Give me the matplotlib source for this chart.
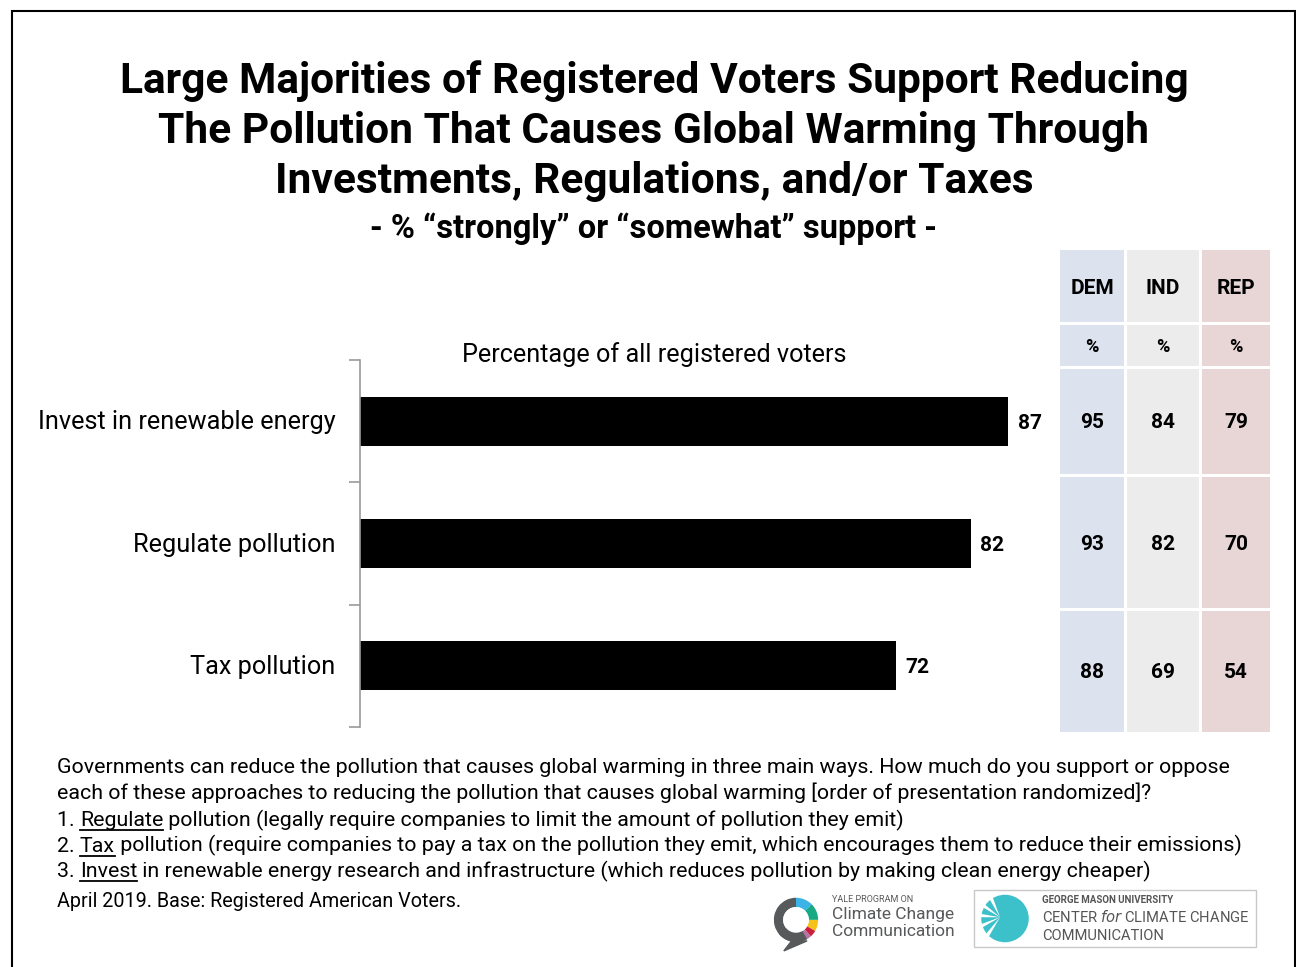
import matplotlib
matplotlib.use("Agg")
import matplotlib.pyplot as plt
from matplotlib.patches import Rectangle, Wedge, Circle
from matplotlib.lines import Line2D

# ---------------- data ----------------
categories = ["Invest in renewable energy", "Regulate pollution", "Tax pollution"]
all_voters = [87, 82, 72]
party_cols = ["DEM", "IND", "REP"]
dem_vals = [95, 93, 88]
ind_vals = [84, 82, 69]
rep_vals = [79, 70, 54]

title_lines = ["Large Majorities of Registered Voters Support Reducing",
               "The Pollution That Causes Global Warming Through",
               "Investments, Regulations, and/or Taxes"]
subtitle = "- % \u201cstrongly\u201d or \u201csomewhat\u201d support -"
axis_title = "Percentage of all registered voters"
question = ["Governments can reduce the pollution that causes global warming in three main ways. How much do you support or oppose",
            "each of these approaches to reducing the pollution that causes global warming [order of presentation randomized]?"]
items = [("1. ", "Regulate", " pollution (legally require companies to limit the amount of pollution they emit)"),
         ("2. ", "Tax", " pollution (require companies to pay a tax on the pollution they emit, which encourages them to reduce their emissions)"),
         ("3. ", "Invest", " in renewable energy research and infrastructure (which reduces pollution by making clean energy cheaper)")]
source = "April 2019. Base: Registered American Voters."

plt.rcParams['font.family'] = ['Roboto', 'DejaVu Sans']

W, H = 1296, 967
fig = plt.figure(figsize=(W / 100, H / 100), dpi=100)

def fx(x):
    return x / W

def fy(y):
    return 1 - y / H

# frame
fig.add_artist(Rectangle((fx(12), fy(990)), fx(1283), (990 - 11) / H, transform=fig.transFigure,
                         fill=False, edgecolor='black', linewidth=1.5))

# title
for i, line in enumerate(title_lines):
    fig.text(fx(654), fy(81 + 50.5 * i), line, ha='center', va='center', fontsize=30.6, fontweight='bold')
fig.text(fx(654), fy(229), subtitle, ha='center', va='center', fontsize=23.5, fontweight='bold')

# ---------------- bar chart ----------------
ax = fig.add_axes([fx(360), fy(727), fx(1060 - 360), (727 - 360) / H])
y = list(range(len(categories)))
ax.barh(y, all_voters, height=0.4, color='black')
ax.set_xlim(0, 94)
ax.set_ylim(2.5, -0.5)
for s in ['top', 'right', 'bottom']:
    ax.spines[s].set_visible(False)
ax.spines['left'].set_color('#9a9a9a')
ax.spines['left'].set_linewidth(1.2)
ax.set_xticks([])
ax.set_yticks([-0.5, 0.5, 1.5, 2.5])
ax.set_yticklabels([])
ax.tick_params(axis='y', length=8, color='#9a9a9a', width=1.2)
ax.patch.set_alpha(0)
for yi, (cat, v) in enumerate(zip(categories, all_voters)):
    ax.text(-3.3, yi + 0.01, cat, ha='right', va='center', fontsize=18.2)
    ax.text(v + 1.3, yi + 0.015, str(v), ha='left', va='center', fontsize=15, fontweight='bold')
fig.text(fx(654), fy(355), axis_title, ha='center', va='center', fontsize=18.2)

# ---------------- party table ----------------
col_x = [(1060, 1124), (1127, 1199), (1202, 1270)]
col_colors = ['#dce3ee', '#ececec', '#e8d6d7']
row_y = [(250, 322), (325, 366), (369, 474), (477, 608), (611, 732)]
row_text_y = [288, 347, 423, 545, 673]
vals = [dem_vals, ind_vals, rep_vals]
for ci, ((x0, x1), col, name) in enumerate(zip(col_x, col_colors, party_cols)):
    for ri, (y0, y1) in enumerate(row_y):
        fig.add_artist(Rectangle((fx(x0), fy(y1)), fx(x1 - x0), (y1 - y0) / H,
                                 transform=fig.transFigure, facecolor=col, edgecolor='none'))
    xc = fx((x0 + x1) / 2)
    fig.text(xc, fy(row_text_y[0]), name, ha='center', va='center', fontsize=15, fontweight='bold')
    fig.text(xc, fy(row_text_y[1]), '%', ha='center', va='center', fontsize=13, fontweight='bold')
    for ri, v in enumerate(vals[ci]):
        fig.text(xc, fy(row_text_y[ri + 2]), str(v), ha='center', va='center', fontsize=15, fontweight='bold')

# ---------------- footnote ----------------
fs = 15.4
fig.text(fx(57), fy(773), question[0], ha='left', va='baseline', fontsize=fs)
fig.text(fx(57), fy(799), question[1], ha='left', va='baseline', fontsize=fs)
fig.canvas.draw()
renderer = fig.canvas.get_renderer()
for i, (pre, word, rest) in enumerate(items):
    yy = fy(826 + 25.5 * i)
    t1 = fig.text(fx(57), yy, pre, ha='left', va='baseline', fontsize=fs)
    bb1 = t1.get_window_extent(renderer)
    x_word = bb1.x1
    t2 = fig.text(x_word / W, yy, word, ha='left', va='baseline', fontsize=fs)
    bb2 = t2.get_window_extent(renderer)
    uy = yy - 4 / H
    fig.add_artist(Line2D([bb2.x0 / W, bb2.x1 / W], [uy, uy], transform=fig.transFigure,
                          color='black', linewidth=1.3))
    fig.text(bb2.x1 / W, yy, rest, ha='left', va='baseline', fontsize=fs)

fig.text(fx(57), fy(907), source, ha='left', va='baseline', fontsize=14.2)

# ---------------- logos ----------------
axl = fig.add_axes([fx(765), fy(952), fx(62), 62 / H])
axl.set_xlim(-1.4, 1.4)
axl.set_ylim(-1.4, 1.4)
axl.set_aspect('equal')
axl.axis('off')
for a0, a1, c in [(45, 90, '#3bb4e5'), (0, 45, '#16a984'), (-30, 0, '#f6c21a'),
                  (-48, -30, '#c8203e'), (-60, -48, '#b772a8'), (90, 300, '#58595b')]:
    axl.add_patch(Wedge((0, 0.05), 1.0, a0, a1, width=0.42, facecolor=c, edgecolor='none'))
axl.add_patch(Wedge((0, 0.05), 1.0, 220, 300, width=1.0, facecolor='#58595b', edgecolor='none'))
axl.add_patch(Circle((0, 0.05), 0.58, facecolor='white', edgecolor='none'))
axl.fill([-0.2, 0.5, -0.55], [-0.9, -0.9, -1.35], color='#58595b')

fig.text(fx(832), fy(899), "YALE PROGRAM ON", ha='left', va='center', fontsize=6.5, color='#58595b')
fig.text(fx(832), fy(915), "Climate Change", ha='left', va='center', fontsize=12.5, color='#58595b')
fig.text(fx(832), fy(932), "Communication", ha='left', va='center', fontsize=12.5, color='#58595b')

# GMU box
fig.add_artist(Rectangle((fx(974), fy(947)), fx(282), 57 / H, transform=fig.transFigure,
                         fill=False, edgecolor='#c8c8c8', linewidth=1))
axg = fig.add_axes([fx(975), fy(946), fx(55), 55 / H])
axg.set_xlim(-1.1, 1.1)
axg.set_ylim(-1.1, 1.1)
axg.set_aspect('equal')
axg.axis('off')
axg.add_patch(Circle((0.1, 0), 0.95, facecolor='#3cc0c9', edgecolor='none'))
for ang in range(110, 260, 30):
    axg.add_patch(Wedge((-0.1, 0.05), 1.1, ang, ang + 10, facecolor='white', edgecolor='none'))
fig.text(fx(1042), fy(900), "GEORGE MASON UNIVERSITY", ha='left', va='center', fontsize=7, color='#555555', fontweight='bold')
fig.text(fx(1042), fy(917), "CENTER $\\it{for}$ CLIMATE CHANGE", ha='left', va='center', fontsize=10.6, color='#555555')
fig.text(fx(1042), fy(936), "COMMUNICATION", ha='left', va='center', fontsize=10.6, color='#555555')

fig.savefig("out.png", dpi=100)
